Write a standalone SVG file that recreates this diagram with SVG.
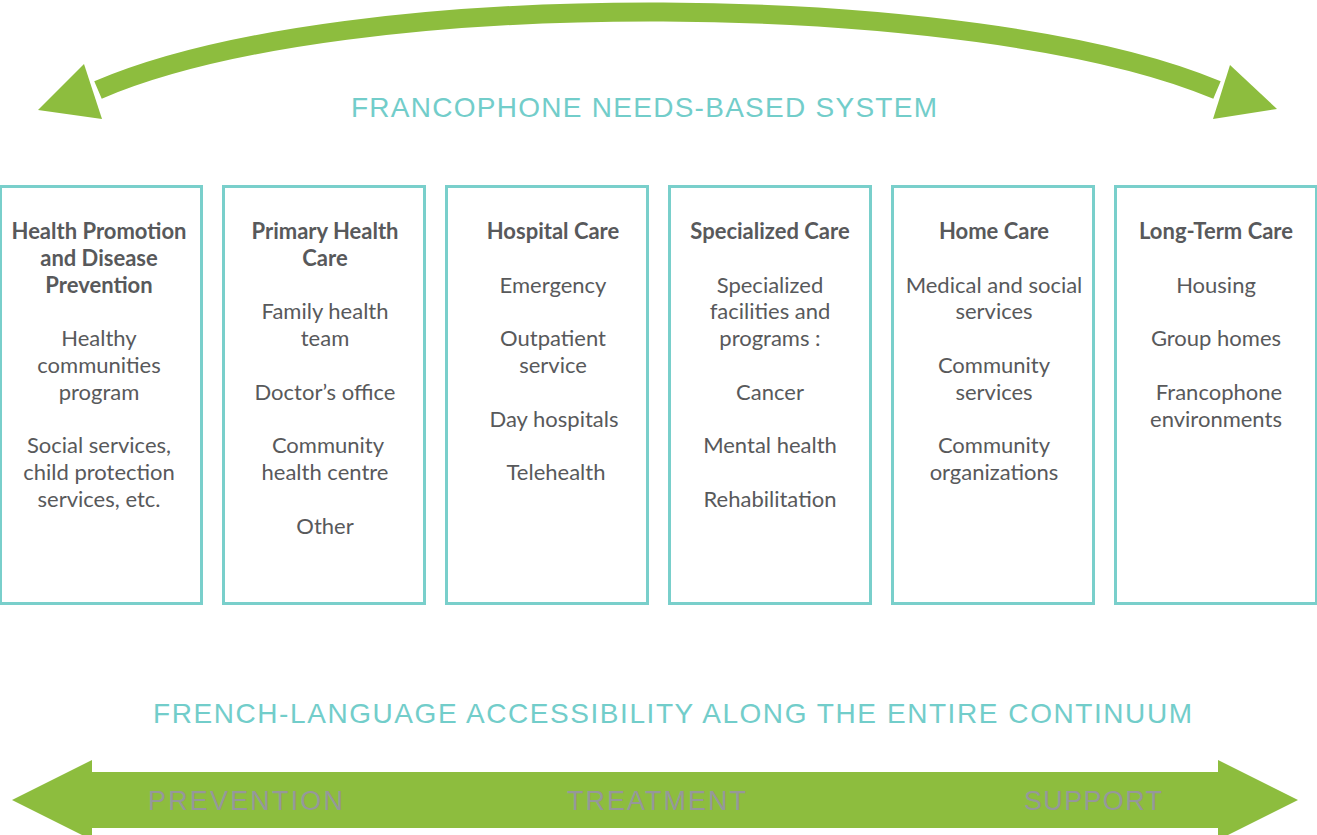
<svg xmlns="http://www.w3.org/2000/svg" width="1317" height="835" viewBox="0 0 1317 835">
<style>
.box{fill:#fff;stroke:#79cfcb;stroke-width:3}
.h{font-family:Lato,"Liberation Sans",sans-serif;font-weight:bold;font-size:22px;fill:#58595b;text-anchor:middle}
.t{font-family:Lato,"Liberation Sans",sans-serif;font-size:22px;fill:#58595b;text-anchor:middle}
.title{font-family:"Liberation Sans",Arial,sans-serif;fill:#72cdca;font-size:28px}
.lab{font-family:"Liberation Sans",Arial,sans-serif;fill:#96979b;font-size:27px}
.green{fill:#8dbd3e}
</style>
<rect width="1317" height="835" fill="#fff"/>
<g id="connectors">
<path d="M98,90 C350,-18 980,-10 1217,90" fill="none" stroke="#8dbd3e" stroke-width="19"/>
<polygon class="green" points="38,110 84,64 102,119"/>
<polygon class="green" points="1277,109 1230,65 1213,119"/>
<polygon class="green" points="12,800 92,760 92,772 1218,772 1218,760 1298,800 1218,840 1218,828 92,828 92,840"/>
</g>
<text class="title" x="644" y="117" textLength="586" lengthAdjust="spacing" text-anchor="middle">FRANCOPHONE NEEDS-BASED SYSTEM</text>
<text class="title" x="672.5" y="723" font-size="26" textLength="1039" lengthAdjust="spacing" text-anchor="middle">FRENCH-LANGUAGE ACCESSIBILITY ALONG THE ENTIRE CONTINUUM</text>
<g id="labels">
<text class="lab" x="148" y="810" textLength="195" lengthAdjust="spacing">PREVENTION</text>
<text class="lab" x="567" y="810" textLength="179" lengthAdjust="spacing">TREATMENT</text>
<text class="lab" x="1024" y="810" textLength="138" lengthAdjust="spacing">SUPPORT</text>
</g>
<g id="box1">
<rect class="box" x="0.5" y="186.5" width="201" height="417"/>
<text class="h" x="99" y="239">Health Promotion</text>
<text class="h" x="99" y="265.8">and Disease</text>
<text class="h" x="99" y="292.6">Prevention</text>
<text class="t" x="99" y="346.2">Healthy</text>
<text class="t" x="99" y="373">communities</text>
<text class="t" x="99" y="399.8">program</text>
<text class="t" x="99" y="453.4">Social services,</text>
<text class="t" x="99" y="480.2">child protection</text>
<text class="t" x="99" y="507">services, etc.</text>
</g>
<g id="box2">
<rect class="box" x="223.5" y="186.5" width="201" height="417"/>
<text class="h" x="325" y="239">Primary Health</text>
<text class="h" x="325" y="265.8">Care</text>
<text class="t" x="325" y="319.4">Family health</text>
<text class="t" x="325" y="346.2">team</text>
<text class="t" x="325" y="399.8">Doctor’s office</text>
<text class="t" x="328" y="453.4">Community</text>
<text class="t" x="325" y="480.2">health centre</text>
<text class="t" x="325" y="533.8">Other</text>
</g>
<g id="box3">
<rect class="box" x="446.5" y="186.5" width="201" height="417"/>
<text class="h" x="553" y="239">Hospital Care</text>
<text class="t" x="553" y="292.6">Emergency</text>
<text class="t" x="553" y="346.2">Outpatient</text>
<text class="t" x="553" y="373">service</text>
<text class="t" x="554" y="426.6">Day hospitals</text>
<text class="t" x="556" y="480.2">Telehealth</text>
</g>
<g id="box4">
<rect class="box" x="669.5" y="186.5" width="201" height="417"/>
<text class="h" x="770" y="239">Specialized Care</text>
<text class="t" x="770" y="292.6">Specialized</text>
<text class="t" x="770" y="319.4">facilities and</text>
<text class="t" x="770" y="346.2">programs :</text>
<text class="t" x="770" y="399.8">Cancer</text>
<text class="t" x="770" y="453.4">Mental health</text>
<text class="t" x="770" y="507">Rehabilitation</text>
</g>
<g id="box5">
<rect class="box" x="892.5" y="186.5" width="201" height="417"/>
<text class="h" x="994" y="239">Home Care</text>
<text class="t" x="994" y="292.6">Medical and social</text>
<text class="t" x="994" y="319.4">services</text>
<text class="t" x="994" y="373">Community</text>
<text class="t" x="994" y="399.8">services</text>
<text class="t" x="994" y="453.4">Community</text>
<text class="t" x="994" y="480.2">organizations</text>
</g>
<g id="box6">
<rect class="box" x="1115.5" y="186.5" width="201" height="417"/>
<text class="h" x="1216" y="239">Long-Term Care</text>
<text class="t" x="1216" y="292.6">Housing</text>
<text class="t" x="1216" y="346.2">Group homes</text>
<text class="t" x="1219" y="399.8">Francophone</text>
<text class="t" x="1216" y="426.6">environments</text>
</g>
</svg>
